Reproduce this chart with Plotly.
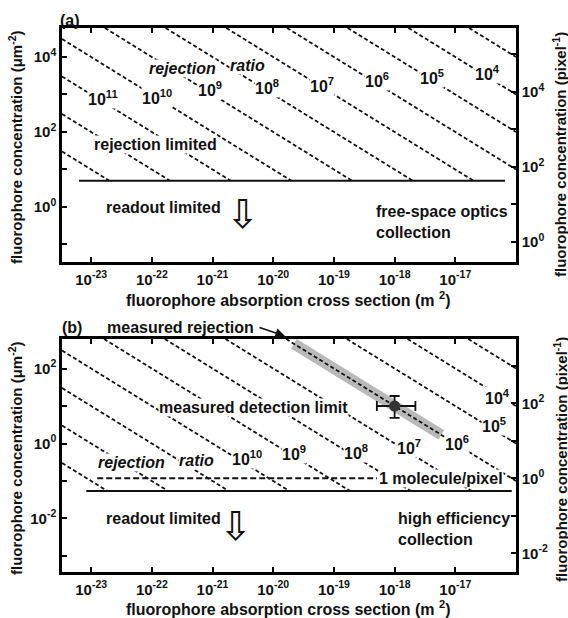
import plotly.graph_objects as go

W, H = 568, 618

# ---------------- data ----------------
sigma_tick_exp = [-23, -22, -21, -20, -19, -18, -17]          # x ticks (log10 m^2)
rejection_exp = [3, 4, 5, 6, 7, 8, 9, 10, 11, 12, 13]           # rejection-ratio lines
scale_a = -9.0       # log10(c * sigma * R) for free-space optics collection
scale_b = -11.0      # log10(c * sigma * R) for high efficiency collection
readout_a = 10 ** 0.70     # readout limit, um^-2 (panel a)
readout_b = 10 ** -1.27    # readout limit, um^-2 (panel b)
pixel_area_log = 0.93      # log10(um^2 per pixel)
one_per_pixel = 1.0        # molecules / pixel
measured_sigma = 1.0e-18
measured_conc = 10.0
measured_sigma_err = [0.49e-18, 1.2e-18]   # minus, plus
measured_conc_err = [5.2, 8.5]             # minus, plus
measured_rejection_exp = 6
measured_band_exp = [-19.66, -17.23]

labels_a_R = [11, 10, 9, 8, 7, 6, 5, 4]
labels_b_R = [10, 9, 8, 7, 6, 5, 4]

# ---------------- geometry helpers ----------------
X0, X1 = 62, 516
A_TOP, A_BOT = 28, 262
B_TOP, B_BOT = 339, 572
XR = [-23.48, -16.0]
YRA = [-1.467, 4.773]
YRB = [-3.427, 2.787]


def px(x):
    return x / W


def py(y):
    return 1 - y / H


FONT = "Liberation Sans, Arial, Helvetica, sans-serif"
BLK = "#000000"

fig = go.Figure()


def rej_segments(scale, ymin_log, ymax_log, xa, ya):
    for r in rejection_exp:
        s0 = max(XR[0], scale - r - ymax_log)
        s1 = min(XR[1], scale - r - ymin_log)
        if s1 <= s0:
            continue
        xs = [10 ** s0, 10 ** s1]
        ys = [10 ** (scale - r - s0), 10 ** (scale - r - s1)]
        fig.add_trace(go.Scatter(x=xs, y=ys, mode="lines", xaxis=xa, yaxis=ya,
                                 line=dict(color="#111111", width=1.8, dash="4px,2.5px"),
                                 showlegend=False, hoverinfo="skip"))


# panel b gray measured band (under the dashed lines)
band_x = [10 ** e for e in measured_band_exp]
band_y = [10 ** (scale_b - measured_rejection_exp - e) for e in measured_band_exp]
fig.add_trace(go.Scatter(x=band_x, y=band_y, mode="lines", xaxis="x2", yaxis="y2",
                         line=dict(color="#b9b9b9", width=11),
                         showlegend=False, hoverinfo="skip"))

rej_segments(scale_a, 0.70, YRA[1], "x", "y")
rej_segments(scale_b, -1.27, YRB[1], "x2", "y2")

# readout limit lines
fig.add_trace(go.Scatter(x=[10 ** -23.20, 10 ** -16.18], y=[readout_a, readout_a], mode="lines",
                         xaxis="x", yaxis="y", line=dict(color="#111111", width=2),
                         showlegend=False, hoverinfo="skip"))
fig.add_trace(go.Scatter(x=[10 ** -23.08, 10 ** -16.07], y=[readout_b, readout_b], mode="lines",
                         xaxis="x2", yaxis="y2", line=dict(color="#111111", width=2),
                         showlegend=False, hoverinfo="skip"))
# 1 molecule / pixel (right axis of panel b)
fig.add_trace(go.Scatter(x=[10 ** -22.90, 10 ** -18.29], y=[one_per_pixel, one_per_pixel],
                         mode="lines", xaxis="x2", yaxis="y4",
                         line=dict(color="#111111", width=2, dash="6px,3px"),
                         showlegend=False, hoverinfo="skip"))
# right-axis anchor trace for panel a
fig.add_trace(go.Scatter(x=[None], y=[None], xaxis="x", yaxis="y3", showlegend=False,
                         hoverinfo="skip"))

# measured point
fig.add_trace(go.Scatter(x=[measured_sigma], y=[measured_conc], mode="markers",
                         xaxis="x2", yaxis="y2",
                         marker=dict(color="#333333", size=11),
                         error_x=dict(type="data", symmetric=False,
                                      array=[measured_sigma_err[1]],
                                      arrayminus=[measured_sigma_err[0]],
                                      color="#111111", thickness=1.8, width=5),
                         error_y=dict(type="data", symmetric=False,
                                      array=[measured_conc_err[1]],
                                      arrayminus=[measured_conc_err[0]],
                                      color="#111111", thickness=1.8, width=5),
                         showlegend=False, hoverinfo="skip"))


def sup(e):
    return "10<sup>%d</sup>" % e


tickfont = dict(family=FONT, size=15, color="#111111")
xt = dict(type="log", range=XR, domain=[px(X0), px(X1)],
          tickvals=[10 ** e for e in sigma_tick_exp],
          ticktext=["<b>%s</b>" % sup(e) for e in sigma_tick_exp],
          ticks="inside", ticklen=5, tickwidth=2, tickcolor=BLK,
          showline=True, linewidth=2.5, linecolor=BLK, mirror="ticks",
          showgrid=False, zeroline=False, tickfont=tickfont, ticklabelstandoff=2)


def yax(rng, dom, anchor, side="left", overlay=None):
    lo, hi = int(rng[0]) - 1, int(rng[1]) + 1
    ks = [k for k in range(lo, hi + 1) if rng[0] <= k <= rng[1]]
    d = dict(type="log", range=rng, domain=dom, anchor=anchor,
             tickvals=[10 ** k for k in ks],
             ticktext=["<b>%s</b>" % sup(k) if k % 2 == 0 else "" for k in ks],
             ticks="inside", ticklen=5, tickwidth=2, tickcolor=BLK,
             showline=True, linewidth=2.5, linecolor=BLK,
             showgrid=False, zeroline=False, tickfont=tickfont, side=side)
    if overlay:
        d["overlaying"] = overlay
    else:
        d["mirror"] = True
    return d


fig.update_layout(
    width=W, height=H, margin=dict(l=0, r=0, t=0, b=0),
    paper_bgcolor="white", plot_bgcolor="white",
    xaxis=dict(xt, anchor="y"),
    xaxis2=dict(xt, anchor="y2"),
    yaxis=yax(YRA, [py(A_BOT), py(A_TOP)], "x"),
    yaxis2=yax(YRB, [py(B_BOT), py(B_TOP)], "x2"),
    yaxis3=yax([YRA[0] + pixel_area_log, YRA[1] + pixel_area_log],
               [py(A_BOT), py(A_TOP)], "x", side="right", overlay="y"),
    yaxis4=yax([YRB[0] + pixel_area_log, YRB[1] + pixel_area_log],
               [py(B_BOT), py(B_TOP)], "x2", side="right", overlay="y2"),
)

ann = []


def text(t, x, y, size=16, bg=None, xanchor="center", align="center", angle=0, family=FONT):
    a = dict(text=t, x=px(x), y=py(y), xref="paper", yref="paper", showarrow=False,
             xanchor=xanchor, yanchor="middle", align=align, textangle=angle,
             font=dict(family=family, size=size, color="#111111"))
    if bg:
        a["bgcolor"] = bg
        a["borderpad"] = 0
    ann.append(a)


# rejection-ratio labels
la_pos = [(103, 98), (157, 97), (210, 89), (267, 87), (322, 85), (377, 80), (432, 77), (487, 73)]
for r, (x, y) in zip(labels_a_R, la_pos):
    text("<b>%s</b>" % sup(r), x, y, bg="white")
lb_pos = [(247, 458), (294, 453), (356, 452), (409, 447), (457, 443), (494, 425), (497, 397)]
for r, (x, y) in zip(labels_b_R, lb_pos):
    text("<b>%s</b>" % sup(r), x, y, bg="white")

# panel a text
text("<b>(a)</b>", 70, 21)
text("<b><i>rejection</i></b>", 182, 68, bg="white")
text("<b><i>ratio</i></b>", 247, 65, bg="white")
text("<b>rejection limited</b>", 155, 144, bg="white")
text("<b>readout limited</b>", 163, 207)
text("⇩", 243, 214, size=40, family="DejaVu Sans")
text("<b>free-space optics<br>collection</b>", 374, 222, xanchor="left", align="left")

# panel b text
text("<b>(b)</b>", 72, 327)
text("<b>measured rejection</b>", 180, 327)
text("<b>measured detection limit</b>", 253, 407, bg="white")
text("<b><i>rejection</i></b>", 131, 462, bg="white")
text("<b><i>ratio</i></b>", 196, 460, bg="white")
text("<b>1 molecule/pixel</b>", 441, 478, bg="white")
text("<b>readout limited</b>", 163, 518)
text("⇩", 236, 526, size=40, family="DejaVu Sans")
text("<b>high efficiency<br>collection</b>", 396, 529, xanchor="left", align="left")

# measured rejection arrow
ann.append(dict(x=px(285), y=py(336), xref="paper", yref="paper", text="",
                showarrow=True, ax=-27, ay=-9, axref="pixel", ayref="pixel",
                arrowhead=2, arrowsize=1.2, arrowwidth=1.6, arrowcolor="#111111"))

# axis titles
xt_title = "<b>fluorophore absorption cross section (m <sup>2</sup>)</b>"
text(xt_title, 288, 299)
text(xt_title, 288, 608)
text("<b>fluorophore concentration (μm<sup>-2</sup>)</b>", 15, 147, size=15, angle=-90)
text("<b>fluorophore concentration (μm<sup>-2</sup>)</b>", 15, 458, size=15, angle=-90)
text("<b>fluorophore concentration (pixel<sup>-1</sup>)</b>", 560, 155, size=15, angle=-90)
text("<b>fluorophore concentration (pixel<sup>-1</sup>)</b>", 560, 460, size=15, angle=-90)

fig.update_layout(annotations=ann)
fig.write_html("out.html", config={"displayModeBar": False},
               post_script="document.body.style.margin='0';document.body.style.padding='0';")
